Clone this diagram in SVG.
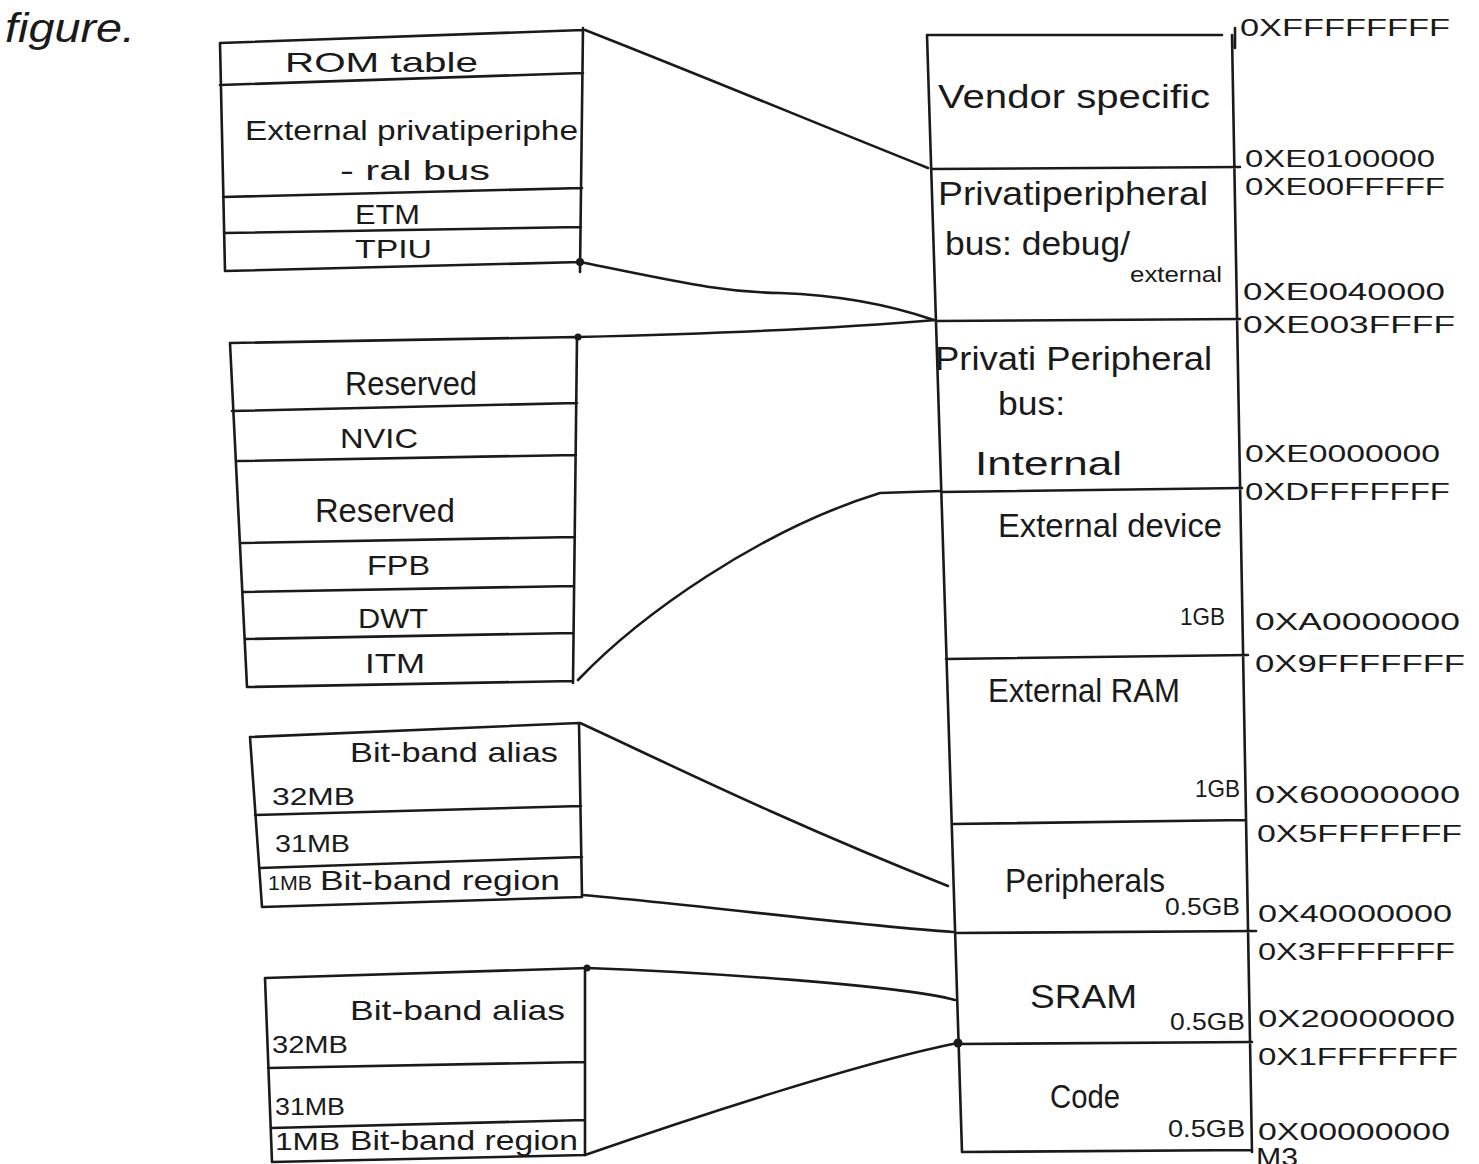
<svg xmlns="http://www.w3.org/2000/svg" width="1479" height="1164" viewBox="0 0 1479 1164">
<style>
.ln{fill:none;stroke:#1a1a1a;stroke-width:2.6;stroke-linecap:round;stroke-linejoin:round}
.t{font-family:"Liberation Sans",Arial,sans-serif;fill:#1a1a1a}
.big{font-size:34px}
.mid{font-size:28px}
.sm{font-size:24px}
.addr{font-size:24px}
.dot{fill:#1a1a1a}
</style>
<rect width="1479" height="1164" fill="#ffffff"/>
<text class="t" x="5" y="42" font-size="40" font-style="italic" textLength="130" lengthAdjust="spacingAndGlyphs">figure.</text>

<g id="box-debug">
<path class="ln" d="M220,43 L583,30 M220,43 L225,271 M583,28 L580,272 M220,85 L583,73 M223,197 L582,188 M224,233 L581,227 M225,271 L581,262"/>
<text class="t mid" x="285" y="72" textLength="193" lengthAdjust="spacingAndGlyphs">ROM table</text>
<text class="t mid" x="245" y="140" textLength="333" lengthAdjust="spacingAndGlyphs">External privatiperiphe</text>
<text class="t mid" x="340" y="180" textLength="150" lengthAdjust="spacingAndGlyphs">- ral bus</text>
<text class="t" font-size="27" x="355" y="224" textLength="65" lengthAdjust="spacingAndGlyphs">ETM</text>
<text class="t" font-size="26" x="355" y="258" textLength="77" lengthAdjust="spacingAndGlyphs">TPIU</text>
</g>

<g id="box-internal">
<path class="ln" d="M230,343 L577,337 M230,343 L247,687 M577,337 L573,683 M232,411 L577,403 M238,461 L576,455 M242,543 L575,537 M244,592 L574,586 M246,639 L573,633 M247,687 L573,681"/>
<text class="t big" x="345" y="395" textLength="132" lengthAdjust="spacingAndGlyphs">Reserved</text>
<text class="t mid" x="340" y="448" textLength="78" lengthAdjust="spacingAndGlyphs">NVIC</text>
<text class="t big" x="315" y="522" textLength="140" lengthAdjust="spacingAndGlyphs">Reserved</text>
<text class="t mid" x="367" y="575" textLength="63" lengthAdjust="spacingAndGlyphs">FPB</text>
<text class="t mid" x="358" y="628" textLength="70" lengthAdjust="spacingAndGlyphs">DWT</text>
<text class="t mid" x="365" y="673" textLength="60" lengthAdjust="spacingAndGlyphs">ITM</text>
</g>

<g id="box-bitband-periph">
<path class="ln" d="M250,737 L579,723 M250,737 L262,907 M579,723 L582,897 M255,815 L581,806 M260,868 L582,857 M262,907 L582,897"/>
<text class="t mid" x="350" y="762" textLength="208" lengthAdjust="spacingAndGlyphs">Bit-band alias</text>
<text class="t sm" x="272" y="805" textLength="83" lengthAdjust="spacingAndGlyphs">32MB</text>
<text class="t sm" x="275" y="852" textLength="75" lengthAdjust="spacingAndGlyphs">31MB</text>
<text class="t" font-size="20" x="268" y="890" textLength="44" lengthAdjust="spacingAndGlyphs">1MB</text>
<text class="t mid" x="320" y="890" textLength="240" lengthAdjust="spacingAndGlyphs">Bit-band region</text>
</g>

<g id="box-bitband-sram">
<path class="ln" d="M265,978 L588,968 M265,978 L272,1162 M585,970 L585,1155 M268,1068 L585,1062 M271,1128 L585,1120 M272,1162 L585,1155"/>
<text class="t mid" x="350" y="1020" textLength="215" lengthAdjust="spacingAndGlyphs">Bit-band alias</text>
<text class="t sm" x="272" y="1053" textLength="76" lengthAdjust="spacingAndGlyphs">32MB</text>
<text class="t sm" x="275" y="1115" textLength="70" lengthAdjust="spacingAndGlyphs">31MB</text>
<text class="t sm" x="275" y="1150" textLength="65" lengthAdjust="spacingAndGlyphs">1MB</text>
<text class="t mid" x="350" y="1150" textLength="228" lengthAdjust="spacingAndGlyphs">Bit-band region</text>
</g>

<g id="memory-map">
<path class="ln" d="M927,35 L962,1152 M1232,35 L1252,1152 M928,35 L1222,35 M1235,48 L1235,28 M931,169 L1240,167 M936,321 L1240,319 M941,492 L1242,488 M946,659 L1248,655 M952,824 L1246,820 M955,933 L1256,931 M958,1044 L1252,1042 M962,1152 L1252,1150"/>
<text class="t big" x="938" y="108" textLength="272" lengthAdjust="spacingAndGlyphs">Vendor specific</text>
<text class="t big" x="938" y="205" textLength="270" lengthAdjust="spacingAndGlyphs">Privatiperipheral</text>
<text class="t big" x="945" y="255" textLength="185" lengthAdjust="spacingAndGlyphs">bus: debug/</text>
<text class="t" font-size="22" x="1130" y="282" textLength="92" lengthAdjust="spacingAndGlyphs">external</text>
<text class="t big" x="935" y="370" textLength="277" lengthAdjust="spacingAndGlyphs">Privati Peripheral</text>
<text class="t big" x="998" y="415" textLength="67" lengthAdjust="spacingAndGlyphs">bus:</text>
<text class="t big" x="975" y="475" textLength="147" lengthAdjust="spacingAndGlyphs">Internal</text>
<text class="t big" x="998" y="537" textLength="224" lengthAdjust="spacingAndGlyphs">External device</text>
<text class="t big" x="988" y="702" textLength="192" lengthAdjust="spacingAndGlyphs">External RAM</text>
<text class="t big" x="1005" y="892" textLength="160" lengthAdjust="spacingAndGlyphs">Peripherals</text>
<text class="t big" x="1030" y="1008" textLength="107" lengthAdjust="spacingAndGlyphs">SRAM</text>
<text class="t big" x="1050" y="1108" textLength="70" lengthAdjust="spacingAndGlyphs">Code</text>
<text class="t sm" x="1180" y="625" textLength="45" lengthAdjust="spacingAndGlyphs">1GB</text>
<text class="t sm" x="1195" y="797" textLength="45" lengthAdjust="spacingAndGlyphs">1GB</text>
<text class="t sm" x="1165" y="915" textLength="75" lengthAdjust="spacingAndGlyphs">0.5GB</text>
<text class="t sm" x="1170" y="1030" textLength="75" lengthAdjust="spacingAndGlyphs">0.5GB</text>
<text class="t sm" x="1168" y="1137" textLength="77" lengthAdjust="spacingAndGlyphs">0.5GB</text>
</g>

<g id="addresses">
<text class="t addr" x="1240" y="36" textLength="210" lengthAdjust="spacingAndGlyphs">0XFFFFFFFF</text>
<text class="t addr" x="1245" y="167" textLength="190" lengthAdjust="spacingAndGlyphs">0XE0100000</text>
<text class="t addr" x="1245" y="195" textLength="200" lengthAdjust="spacingAndGlyphs">0XE00FFFFF</text>
<text class="t addr" x="1243" y="300" textLength="202" lengthAdjust="spacingAndGlyphs">0XE0040000</text>
<text class="t addr" x="1243" y="333" textLength="212" lengthAdjust="spacingAndGlyphs">0XE003FFFF</text>
<text class="t addr" x="1245" y="462" textLength="195" lengthAdjust="spacingAndGlyphs">0XE0000000</text>
<text class="t addr" x="1245" y="500" textLength="205" lengthAdjust="spacingAndGlyphs">0XDFFFFFFF</text>
<text class="t addr" x="1255" y="630" textLength="205" lengthAdjust="spacingAndGlyphs">0XA0000000</text>
<text class="t addr" x="1255" y="672" textLength="210" lengthAdjust="spacingAndGlyphs">0X9FFFFFFF</text>
<text class="t addr" x="1255" y="803" textLength="205" lengthAdjust="spacingAndGlyphs">0X60000000</text>
<text class="t addr" x="1257" y="842" textLength="205" lengthAdjust="spacingAndGlyphs">0X5FFFFFFF</text>
<text class="t addr" x="1258" y="922" textLength="194" lengthAdjust="spacingAndGlyphs">0X40000000</text>
<text class="t addr" x="1258" y="960" textLength="197" lengthAdjust="spacingAndGlyphs">0X3FFFFFFF</text>
<text class="t addr" x="1258" y="1027" textLength="197" lengthAdjust="spacingAndGlyphs">0X20000000</text>
<text class="t addr" x="1258" y="1065" textLength="200" lengthAdjust="spacingAndGlyphs">0X1FFFFFFF</text>
<text class="t addr" x="1258" y="1140" textLength="192" lengthAdjust="spacingAndGlyphs">0X00000000</text>
<text class="t" font-size="26" x="1256" y="1166" textLength="42" lengthAdjust="spacingAndGlyphs">M3</text>
</g>

<g id="connectors">
<path class="ln" d="M585,30 C700,75 820,125 928,168"/>
<path class="ln" d="M580,262 C680,282 720,292 780,293 C840,295 890,305 934,320"/>
<path class="ln" d="M578,337 C700,334 820,330 936,320"/>
<path class="ln" d="M578,680 C640,615 760,530 880,493 L941,491"/>
<path class="ln" d="M580,723 C640,750 780,820 948,886"/>
<path class="ln" d="M582,895 C700,905 850,925 953,932"/>
<path class="ln" d="M587,968 C700,972 900,985 955,1000"/>
<path class="ln" d="M585,1155 C700,1115 870,1060 958,1043"/>
<circle class="dot" cx="580" cy="262" r="4"/>
<circle class="dot" cx="578" cy="337" r="3.5"/>
<circle class="dot" cx="587" cy="968" r="3.5"/>
<circle class="dot" cx="958" cy="1043" r="4.5"/>
</g>
</svg>
